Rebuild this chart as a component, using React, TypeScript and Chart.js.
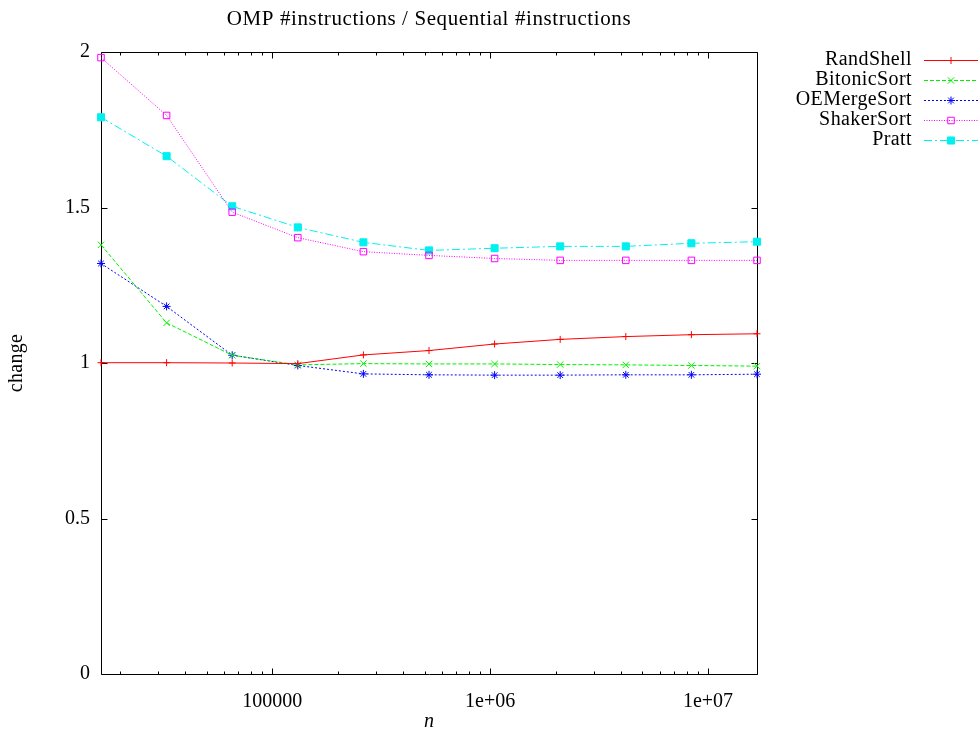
import React, { useEffect, useRef } from "react";
import { Chart, registerables } from "chart.js";
import { drawPoint } from "chart.js/helpers";

Chart.register(...registerables);

// Problem sizes n (powers of two from 2^14 to 2^24)
const nValues = [16384, 32768, 65536, 131072, 262144, 524288, 1048576, 2097152, 4194304, 8388608, 16777216];

// Ratio OMP #instructions / Sequential #instructions per algorithm
const randShell = [1.001, 1.001, 1.0, 0.998, 1.026, 1.04, 1.061, 1.076, 1.085, 1.091, 1.094];
const bitonicSort = [1.38, 1.129, 1.025, 0.994, 0.998, 0.997, 0.997, 0.995, 0.994, 0.992, 0.99];
const oeMergeSort = [1.32, 1.182, 1.025, 0.992, 0.965, 0.962, 0.961, 0.961, 0.962, 0.962, 0.964];
const shakerSort = [1.982, 1.796, 1.485, 1.403, 1.358, 1.346, 1.336, 1.33, 1.33, 1.33, 1.33];
const pratt = [1.79, 1.665, 1.504, 1.436, 1.388, 1.362, 1.369, 1.375, 1.375, 1.385, 1.39];

const seriesLabels = ["RandShell", "BitonicSort", "OEMergeSort", "ShakerSort", "Pratt"];

const xTickValues = [100000, 1000000, 10000000];
const xTickLabels = ["100000", "1e+06", "1e+07"];
const yTickValues = [0, 0.5, 1, 1.5, 2];
const yTickLabels = ["0", "0.5", "1", "1.5", "2"];

const titleText = "OMP #instructions / Sequential #instructions";
const xTitle = "n";
const yTitle = "change";

const FONT = "'Liberation Serif', 'DejaVu Serif', serif";
const FONT_SIZE = 20;

type Style = {
  color: string;
  dash: number[];
  pointStyle: string;
  radius: number;
  fill: boolean;
};

const styles: Style[] = [
  { color: "#ff0000", dash: [], pointStyle: "cross", radius: 3.5, fill: false },
  { color: "#00f000", dash: [4, 2], pointStyle: "crossRot", radius: 4.5, fill: false },
  { color: "#0000ff", dash: [2, 2], pointStyle: "star", radius: 4, fill: false },
  { color: "#ff00ff", dash: [1, 1.5], pointStyle: "rect", radius: 4.6, fill: false },
  { color: "#00f0f0", dash: [8, 3, 2, 3], pointStyle: "rect", radius: 5, fill: true },
];

const seriesValues = [randShell, bitonicSort, oeMergeSort, shakerSort, pratt];

// Closed frame, inward mirrored ticks, titles and the right-side key
const gnuplotDecor = {
  id: "gnuplotDecor",
  beforeDatasetsDraw(chart: any) {
    const { ctx, chartArea, scales } = chart;
    const { left, right, top, bottom } = chartArea;
    const xs = scales.x;
    const ys = scales.y;
    ctx.save();
    ctx.strokeStyle = "#000";
    ctx.lineWidth = 1;
    ctx.setLineDash([]);
    const L = Math.round(left) + 0.5;
    const R = Math.round(right) + 0.5;
    const T = Math.round(top) + 0.5;
    const B = Math.round(bottom) + 0.5;
    ctx.beginPath();
    ctx.rect(L, T, R - L, B - T);
    ctx.stroke();

    const major = 6;
    const minor = 3;
    ctx.beginPath();
    // x ticks (log): majors at decades, minors at 2..9 multiples
    for (let dec = 10000; dec <= 10000000; dec *= 10) {
      for (let m = 1; m <= 9; m++) {
        const v = dec * m;
        if (v < xs.min || v > xs.max) continue;
        const px = Math.round(xs.getPixelForValue(v)) + 0.5;
        const len = m === 1 ? major : minor;
        ctx.moveTo(px, B);
        ctx.lineTo(px, B - len);
        ctx.moveTo(px, T);
        ctx.lineTo(px, T + len);
      }
    }
    // y ticks
    for (const v of yTickValues) {
      const py = Math.round(ys.getPixelForValue(v)) + 0.5;
      ctx.moveTo(L, py);
      ctx.lineTo(L + major, py);
      ctx.moveTo(R, py);
      ctx.lineTo(R - major, py);
    }
    ctx.stroke();
    ctx.restore();
  },
  afterDraw(chart: any) {
    const { ctx, chartArea } = chart;
    const { left, right, top, bottom } = chartArea;
    const cx = (left + right) / 2;
    ctx.save();
    ctx.fillStyle = "#000";
    ctx.font = `21px ${FONT}`;
    ctx.textAlign = "center";
    ctx.textBaseline = "middle";
    (ctx as any).letterSpacing = "0.6px";
    ctx.fillText(titleText, cx, 19);
    (ctx as any).letterSpacing = "0px";

    ctx.font = `italic ${FONT_SIZE}px ${FONT}`;
    ctx.fillText(xTitle, cx, 722);

    ctx.font = `${FONT_SIZE}px ${FONT}`;
    ctx.translate(17, (top + bottom) / 2);
    ctx.rotate(-Math.PI / 2);
    (ctx as any).letterSpacing = "0.3px";
    ctx.fillText(yTitle, 0, 0);
    (ctx as any).letterSpacing = "0px";
    ctx.restore();

    // key: right-aligned labels followed by line samples and markers
    ctx.save();
    ctx.font = `${FONT_SIZE}px ${FONT}`;
    ctx.textAlign = "right";
    ctx.textBaseline = "middle";
    (ctx as any).letterSpacing = "0.4px";
    const textRight = 912;
    const sx0 = 924;
    const sx1 = 978;
    chart.data.datasets.forEach((ds: any, i: number) => {
      const yy = 60 + i * 20;
      const ly = Math.round(yy) + 0.5;
      ctx.fillStyle = "#000";
      ctx.fillText(ds.label, textRight, yy);
      const st = styles[i];
      ctx.strokeStyle = st.color;
      ctx.lineWidth = 1;
      ctx.setLineDash(st.dash);
      ctx.beginPath();
      ctx.moveTo(sx0, ly);
      ctx.lineTo(sx1, ly);
      ctx.stroke();
      ctx.setLineDash([]);
      ctx.fillStyle = st.fill ? st.color : "rgba(0,0,0,0)";
      drawPoint(ctx, { pointStyle: st.pointStyle, radius: st.radius, rotation: 0, borderWidth: 1 } as any, 951, ly);
    });
    ctx.restore();
  },
};

export default function App() {
  const ref = useRef<HTMLCanvasElement | null>(null);
  useEffect(() => {
    if (!ref.current) return;
    const datasets = seriesLabels.map((label, i) => {
      const st = styles[i];
      return {
        label,
        data: nValues.map((n, k) => ({ x: n, y: seriesValues[i][k] })),
        borderColor: st.color,
        backgroundColor: st.fill ? st.color : "rgba(0,0,0,0)",
        borderWidth: 1,
        borderDash: st.dash,
        pointStyle: st.pointStyle,
        pointRadius: st.radius,
        pointBorderWidth: 1,
        pointBorderColor: st.color,
        pointBackgroundColor: st.fill ? st.color : "rgba(0,0,0,0)",
        tension: 0,
        fill: false,
        clip: false,
      };
    });
    const chart = new Chart(ref.current, {
      type: "line",
      data: { datasets },
      options: {
        animation: false,
        responsive: false,
        devicePixelRatio: 1,
        layout: { padding: { left: 0, right: 223, top: 52, bottom: 0 } },
        plugins: {
          legend: { display: false },
          title: { display: false },
          tooltip: { enabled: false },
        },
        scales: {
          x: {
            type: "logarithmic",
            min: 16384,
            max: 16777216,
            grid: { display: false, drawTicks: false },
            border: { display: false },
            afterBuildTicks: (scale: any) => {
              scale.ticks = xTickValues.map((v) => ({ value: v }));
            },
            afterFit: (scale: any) => {
              scale.height = 62;
            },
            ticks: {
              autoSkip: false,
              maxRotation: 0,
              padding: 16,
              color: "#000",
              font: { family: FONT, size: FONT_SIZE },
              callback: (_v: any, idx: number) => xTickLabels[idx],
            },
          },
          y: {
            type: "linear",
            min: 0,
            max: 2,
            grid: { display: false, drawTicks: false },
            border: { display: false },
            afterBuildTicks: (scale: any) => {
              scale.ticks = yTickValues.map((v) => ({ value: v }));
            },
            afterFit: (scale: any) => {
              scale.width = 101;
            },
            ticks: {
              padding: 11,
              color: "#000",
              font: { family: FONT, size: FONT_SIZE },
              callback: (_v: any, idx: number) => yTickLabels[idx],
            },
          },
        },
      },
      plugins: [gnuplotDecor],
    } as any);
    return () => chart.destroy();
  }, []);
  return (
    <div style={{ position: "fixed", left: 0, top: 0, width: 980, height: 736, background: "#fff" }}>
      <canvas ref={ref} width={980} height={736} style={{ width: 980, height: 736, display: "block" }} />
    </div>
  );
}
